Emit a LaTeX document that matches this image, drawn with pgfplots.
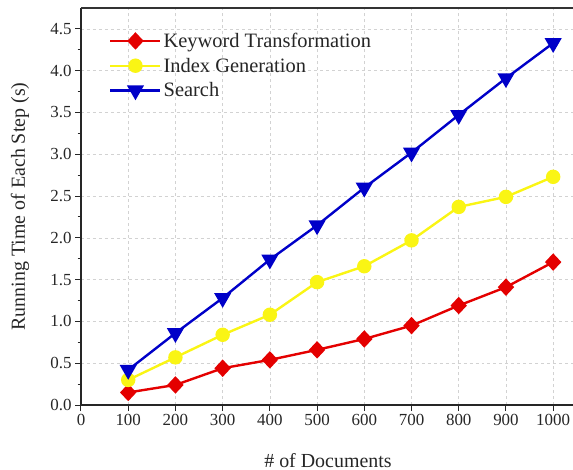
\documentclass[border=0pt]{standalone}
\usepackage{fontspec}
\setmainfont{Liberation Serif}
\usepackage{pgfplots}
\pgfplotsset{compat=1.18}
\definecolor{cred}{RGB}{228,0,0}
\definecolor{cyel}{RGB}{250,245,20}
\definecolor{cblue}{RGB}{0,0,200}
\begin{document}
\begin{tikzpicture}[x=1bp,y=1bp]
\begin{axis}[
  name=ax,
  scale only axis, width=492bp, height=397bp,
  xmin=0, xmax=1042, ymin=0, ymax=4.75,
  axis x line*=bottom, axis y line*=left,
  axis line style={line width=1.6bp, black!85, -},
  xtick={0,100,...,1000}, ytick={0,0.5,...,4.5},
  minor y tick num=1,
  tick align=outside,
  major tick length=6bp, minor tick length=3.5bp,
  tick style={line width=1bp, black!85},
  xticklabel style={/pgf/number format/.cd, 1000 sep={}},
  yticklabel style={/pgf/number format/.cd, fixed, fixed zerofill, precision=1},
  /pgf/number format/assume math mode=true,
  ticklabel style={font=\fontsize{17}{20}\selectfont, text=black!85},
  xlabel={\# of Documents}, ylabel={Running Time of Each Step (s)},
  label style={font=\fontsize{20}{24}\selectfont, text=black!85},
  xlabel style={at={(axis description cs:0.502,-0.139)}, anchor=center},
  ylabel style={at={(axis description cs:-0.124,0.5)}, anchor=center},
  grid=major, grid style={dashed, gray!35, line width=0.6bp},
  legend style={draw=none, fill=none, at={(0.055,0.945)}, anchor=north west,
    font=\fontsize{20.5}{24}\selectfont, row sep=5bp, inner sep=1bp, text=black!85},
  legend cell align=left,
  legend image code/.code={\draw[mark repeat=2,mark phase=2] plot coordinates {(0bp,0bp)(25bp,0bp)(50bp,0bp)};},
  every axis plot/.append style={line width=2.4bp},
]
\addplot[cred, mark=diamond*, mark size=7bp, mark options={solid, fill=cred, xscale=1.25}] coordinates {
(100,0.15)(200,0.24)(300,0.44)(400,0.54)(500,0.66)(600,0.79)(700,0.95)(800,1.19)(900,1.41)(1000,1.71)};
\addlegendentry{Keyword Transformation}
\addplot[cyel, mark=*, mark size=6bp, mark options={solid, fill=cyel}] coordinates {
(100,0.30)(200,0.57)(300,0.84)(400,1.08)(500,1.47)(600,1.66)(700,1.97)(800,2.37)(900,2.49)(1000,2.73)};
\addlegendentry{Index Generation}
\addplot[cblue, mark=triangle*, mark size=7.5bp, mark options={solid, fill=cblue, rotate=180}] coordinates {
(100,0.42)(200,0.86)(300,1.28)(400,1.74)(500,2.15)(600,2.60)(700,3.02)(800,3.47)(900,3.91)(1000,4.33)};
\addlegendentry{Search}
\draw[line width=2.5bp, black!80] (rel axis cs:0,1) -- (rel axis cs:1,1);
\end{axis}
\pgfresetboundingbox
\path[use as bounding box] ([xshift=-81bp,yshift=-65bp]ax.south west) rectangle ([yshift=8bp]ax.north east);
\end{tikzpicture}
\end{document}
